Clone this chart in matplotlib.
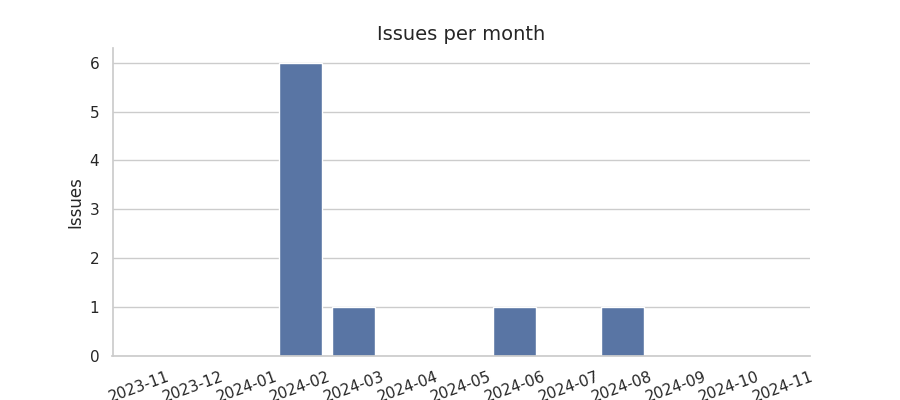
import matplotlib
matplotlib.use("Agg")
import matplotlib.pyplot as plt
import seaborn as sns

months = ["2023-11", "2023-12", "2024-01", "2024-02", "2024-03", "2024-04",
          "2024-05", "2024-06", "2024-07", "2024-08", "2024-09", "2024-10", "2024-11"]
issues = [0, 0, 0, 6, 1, 0, 0, 1, 0, 1, 0, 0, 0]

sns.set_theme(style="whitegrid")
fig, ax = plt.subplots(figsize=(9, 4), dpi=100)
sns.barplot(x=months, y=issues, ax=ax, color="#4C72B0")
ax.set_title("Issues per month", fontsize=14)
ax.set_ylabel("Issues")
ax.set_xlabel("")
ax.tick_params(axis="x", rotation=20)
sns.despine(ax=ax)
fig.savefig("out.png")
